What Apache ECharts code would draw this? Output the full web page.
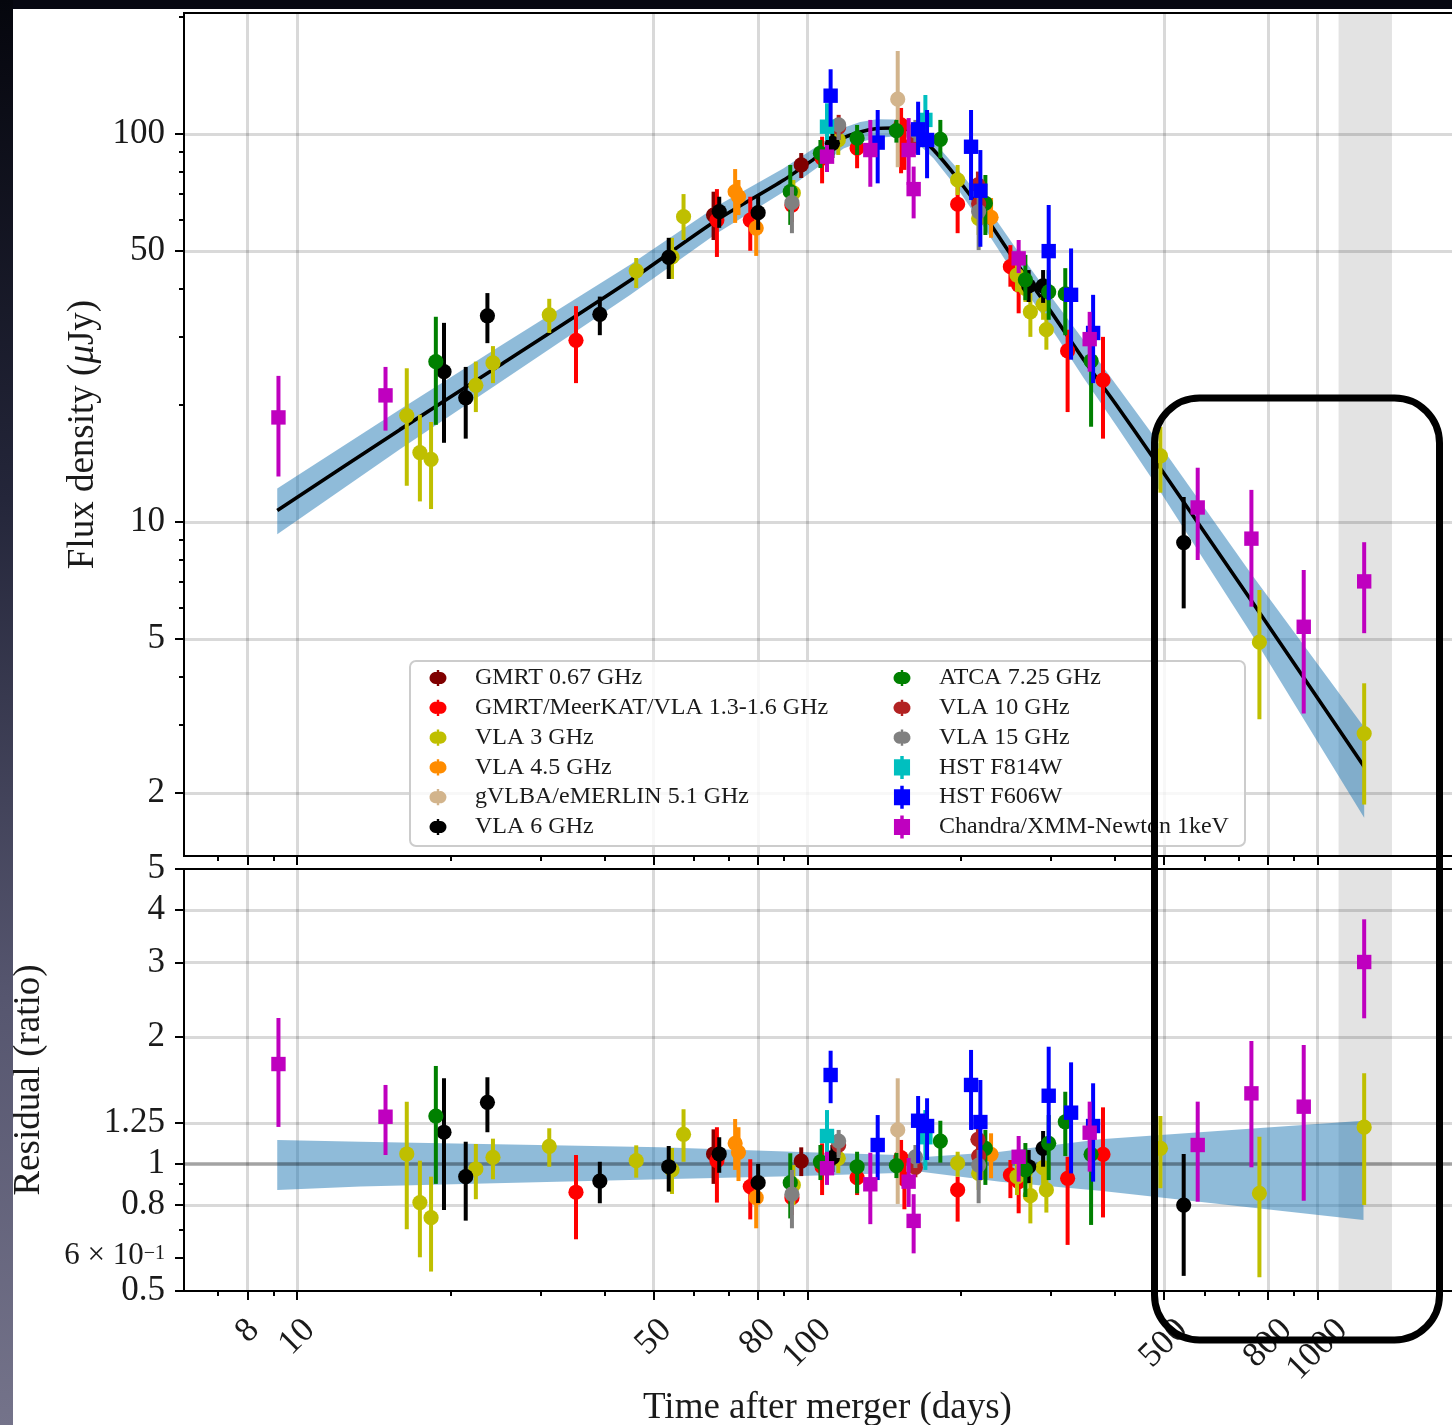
<!DOCTYPE html>
<html>
<head>
<meta charset="utf-8">
<script src="https://cdn.jsdelivr.net/npm/echarts@6/dist/echarts.min.js"></script>
<style>
  html, body { margin: 0; padding: 0; background: #ffffff; }
  #chart { width: 1452px; height: 1425px; }
</style>
</head>
<body>
<div id="chart"></div>
<script>
const FONT = '"Liberation Serif", "DejaVu Serif", serif';
const INK = '#1a1a1a';

// ---- axis ticks -------------------------------------------------------
const xMajorTicks = [8, 10, 50, 80, 100, 500, 800, 1000];
const xMinorTicks = [7, 9, 20, 30, 40, 60, 70, 90, 200, 300, 400, 600, 700, 900];
const fluxMajorTicks = [2, 5, 10, 50, 100];
const fluxMinorTicks = [3, 4, 6, 7, 8, 9, 20, 30, 40, 60, 70, 80, 90, 200];
const ratioMajorTicks = [0.5, 0.6, 0.8, 1, 1.25, 2, 3, 4, 5];
const ratioMinorTicks = [0.7, 0.9];
const ratioGridLines = [0.8, 1.25, 2, 3, 4];

// ---- axis ranges ------------------------------------------------------
const dayRange = [6, 2000];
const fluxRange = [1.378, 205];
const ratioRange = [0.5, 5];
const shadedDays = [1100, 1400];

// ---- best-fit light curve and its 1-sigma band (days, μJy) ------------
const modelDays = [9.14, 15.9, 25.0, 45.0, 66.5, 89.9, 104.5, 117.8, 127.0, 137.0, 147.7, 154.5,
                   164.1, 176.9, 196.6, 221.6, 257.7, 299.6, 348.1, 404.8, 470.6, 738.9, 1234.9];
const modelFlux = [10.7, 17.3, 25.4, 42.0, 60.0, 76.1, 87.3, 97.7, 101.2, 103.3, 103.6, 103.3,
                   99.4, 90.9, 77.0, 62.2, 46.3, 35.0, 26.2, 19.9, 15.0, 6.32, 2.34];
const modelLow  = [9.3, 15.4, 22.9, 38.5, 55.5, 71.0, 81.8, 91.8, 95.4, 97.7, 98.5, 98.6,
                   94.9, 86.4, 72.6, 57.7, 42.5, 31.8, 23.5, 17.6, 13.1, 5.2, 1.73];
const modelHigh = [12.2, 19.5, 28.4, 46.1, 65.2, 81.6, 93.0, 103.8, 107.3, 109.1, 108.9, 108.0,
                   104.2, 95.7, 81.6, 66.9, 50.2, 38.3, 29.4, 22.4, 17.1, 7.4, 2.96];

// residual band (data / model)
const ratioBandDays = [9.14, 13.3, 51.5, 96.9, 150, 167, 239, 375, 1231];
const ratioBandLow  = [0.868, 0.884, 0.920, 0.936, 0.952, 0.959, 0.908, 0.864, 0.737];
const ratioBandHigh = [1.140, 1.129, 1.095, 1.068, 1.050, 1.037, 1.069, 1.144, 1.266];

// ---- measurements: [days, value, lower, upper] -------------------------
const gmrt067Flux = [[65.5, 61.8, 53.3, 71.0], [97.3, 83.2, 77.0, 89.3]];
const gmrt067Ratio = [[65.5, 1.056, 0.897, 1.208], [97.3, 1.016, 0.936, 1.095]];

const lbandFlux = [
  [35.2, 29.4, 22.8, 36.0], [66.5, 60.0, 48.2, 72.1], [77.3, 60.0, 50.0, 68.9],
  [93.3, 65.6, 59.3, 71.7], [106.9, 86.6, 74.6, 98.4], [125.2, 91.9, 81.6, 98.4],
  [152.7, 105.5, 79.2, 116.7], [155.0, 92.7, 80.8, 102.4], [197.1, 65.9, 55.5, 73.1],
  [250.1, 45.5, 40.4, 51.7], [259.6, 40.8, 34.5, 48.3], [323.8, 27.6, 19.2, 31.3],
  [379.9, 23.2, 16.4, 30.0]];
const lbandRatio = [
  [35.2, 0.857, 0.663, 1.050], [66.5, 1.018, 0.810, 1.222], [77.3, 0.884, 0.739, 1.026],
  [93.3, 0.832, 0.757, 0.916], [106.9, 0.985, 0.844, 1.119], [125.2, 0.928, 0.844, 1.005],
  [152.7, 1.035, 0.931, 1.140], [155.0, 0.921, 0.781, 1.040], [197.1, 0.868, 0.730, 0.933],
  [250.1, 0.942, 0.830, 1.022], [259.6, 0.908, 0.764, 1.004], [323.8, 0.925, 0.643, 1.040],
  [379.9, 1.054, 0.747, 1.362]];

const vla3Flux = [
  [16.4, 18.8, 12.4, 24.9], [17.4, 15.1, 11.3, 18.9], [18.3, 14.5, 10.8, 18.1],
  [22.4, 22.5, 19.2, 25.9], [24.2, 25.7, 22.8, 28.4], [31.2, 34.2, 30.7, 37.6],
  [46.2, 44.4, 40.1, 47.9], [54.3, 48.2, 42.3, 54.0], [57.2, 61.2, 53.3, 70.0],
  [93.9, 70.5, 65.6, 76.1], [115.0, 96.5, 88.3, 102.4], [197.1, 76.1, 69.6, 83.2],
  [216.7, 60.6, 54.9, 65.6], [257.7, 43.3, 39.2, 47.3], [267.6, 40.0, 36.9, 44.1],
  [273.7, 34.8, 30.0, 38.9], [289.9, 36.4, 33.2, 40.1], [294.2, 31.3, 27.8, 34.5],
  [492.3, 14.8, 11.9, 17.6], [769.6, 4.90, 3.10, 6.68], [1234.9, 2.85, 1.87, 3.84]];
const vla3Ratio = [
  [16.4, 1.056, 0.700, 1.405], [17.4, 0.810, 0.601, 1.018], [18.3, 0.746, 0.556, 0.933],
  [22.4, 0.973, 0.825, 1.115], [24.2, 1.037, 0.920, 1.148], [31.2, 1.101, 0.985, 1.215],
  [46.2, 1.018, 0.928, 1.107], [54.3, 0.968, 0.849, 1.091], [57.2, 1.176, 1.012, 1.348],
  [93.9, 0.892, 0.799, 0.994], [115.0, 1.031, 0.951, 1.121], [197.1, 1.004, 0.933, 1.069],
  [216.7, 0.950, 0.868, 1.022], [257.7, 0.933, 0.844, 1.022], [267.6, 0.957, 0.877, 1.033],
  [273.7, 0.841, 0.723, 0.933], [289.9, 0.980, 0.897, 1.068], [294.2, 0.868, 0.767, 0.950],
  [492.3, 1.089, 0.876, 1.299], [769.6, 0.852, 0.539, 1.160], [1234.9, 1.222, 0.799, 1.640]];

const vla45Flux = [[72.2, 71.0, 59.0, 81.2], [73.3, 68.9, 61.8, 76.1], [79.4, 57.2, 48.5, 64.0], [229.2, 61.0, 54.0, 68.4]];
const vla45Ratio = [[72.2, 1.119, 0.968, 1.278], [73.3, 1.066, 0.911, 1.222], [79.4, 0.832, 0.704, 0.933], [229.2, 1.054, 0.925, 1.182]];

const vlbiFlux = [[150.4, 122.9, 82.1, 163.6]];
const vlbiRatio = [[150.4, 1.204, 0.804, 1.596]];

const vla6Flux = [
  [19.4, 24.4, 16.0, 32.6], [21.4, 20.9, 16.4, 25.1], [23.6, 34.0, 28.9, 38.9],
  [39.2, 34.3, 30.3, 38.1], [53.5, 48.1, 42.3, 54.0], [67.2, 63.1, 57.3, 68.9],
  [80.1, 62.7, 56.6, 69.6], [112.0, 94.6, 86.7, 102.4], [271.6, 40.6, 36.9, 44.6],
  [289.9, 40.6, 36.7, 44.6], [546.8, 8.85, 5.99, 11.6]];
const vla6Ratio = [
  [19.4, 1.189, 0.778, 1.596], [21.4, 0.933, 0.734, 1.129], [23.6, 1.400, 1.189, 1.605],
  [39.2, 0.911, 0.807, 1.012], [53.5, 0.985, 0.860, 1.103], [67.2, 1.056, 0.953, 1.157],
  [80.1, 0.903, 0.808, 1.000], [112.0, 1.035, 0.957, 1.109], [271.6, 0.985, 0.901, 1.079],
  [289.9, 1.089, 0.985, 1.197], [546.8, 0.799, 0.543, 1.056]];

const atcaFlux = [
  [18.7, 25.9, 17.8, 33.8], [92.6, 71.0, 58.3, 83.2], [106.1, 89.2, 81.7, 96.5],
  [125.2, 97.5, 88.3, 105.5], [149.5, 102.0, 95.0, 108.7], [182.3, 96.9, 86.6, 108.7],
  [223.4, 66.3, 54.9, 78.4], [267.6, 42.1, 37.3, 48.8], [297.3, 39.2, 33.2, 44.6],
  [320.4, 38.7, 30.3, 45.1], [360.0, 26.0, 17.6, 29.8]];
const atcaRatio = [
  [18.7, 1.299, 0.897, 1.707], [92.6, 0.903, 0.743, 1.060], [106.1, 1.012, 0.916, 1.109],
  [125.2, 0.985, 0.852, 1.069], [149.5, 0.991, 0.926, 1.062], [182.3, 1.133, 1.007, 1.266],
  [223.4, 1.089, 0.892, 1.204], [267.6, 0.968, 0.835, 1.121], [297.3, 1.119, 0.916, 1.306],
  [320.4, 1.259, 1.044, 1.483], [360.0, 1.054, 0.717, 1.226]];

const vla10Flux = [[115.2, 104.2, 96.5, 112.0], [162.9, 95.5, 89.0, 102.0], [216.0, 73.9, 68.0, 80.0], [216.7, 66.0, 60.5, 72.0]];
const vla10Ratio = [[115.2, 1.109, 1.050, 1.170], [162.9, 0.982, 0.930, 1.040], [216.0, 1.144, 1.070, 1.220], [216.7, 1.044, 0.970, 1.120]];

const vla15Flux = [[93.3, 66.5, 55.5, 73.1], [115.2, 105.5, 96.5, 109.9], [162.9, 101.8, 95.4, 108.7], [216.7, 63.1, 50.2, 69.6]];
const vla15Ratio = [[93.3, 0.848, 0.704, 0.968], [115.2, 1.133, 1.033, 1.204], [162.9, 1.040, 0.978, 1.109], [216.7, 0.994, 0.807, 1.079]];

const f814wFlux = [[109.3, 104.4, 96.5, 120.0], [170.4, 108.7, 96.5, 126.0]];
const f814wRatio = [[109.3, 1.165, 1.012, 1.342], [170.4, 1.157, 0.968, 1.342]];

const f606wFlux = [
  [111.1, 125.5, 104.4, 146.8], [137.4, 95.0, 74.6, 115.3], [164.9, 102.8, 88.3, 121.1],
  [171.7, 96.5, 76.9, 115.3], [209.4, 92.7, 67.6, 115.3], [218.4, 71.4, 51.2, 90.9],
  [297.3, 49.9, 37.3, 65.6], [328.9, 38.5, 26.2, 50.7], [363.3, 30.7, 22.8, 38.5]];
const f606wRatio = [
  [111.1, 1.625, 1.393, 1.855], [137.4, 1.109, 0.916, 1.306], [164.9, 1.266, 1.004, 1.449],
  [171.7, 1.230, 1.022, 1.431], [209.4, 1.539, 1.204, 1.863], [218.4, 1.257, 0.916, 1.581],
  [297.3, 1.451, 1.119, 1.896], [328.9, 1.323, 0.950, 1.741], [363.3, 1.230, 0.908, 1.553]];

const xrayFlux = [
  [9.19, 18.6, 13.1, 23.8], [14.9, 21.2, 17.2, 25.1], [109.3, 87.4, 79.8, 93.7],
  [132.9, 90.9, 73.1, 108.7], [158.0, 90.9, 73.9, 109.9], [161.6, 72.1, 60.6, 82.4],
  [259.6, 47.8, 43.8, 53.3], [357.7, 29.6, 24.4, 34.8], [582.5, 10.9, 7.98, 13.8],
  [742.3, 9.06, 6.05, 12.1], [940.0, 5.37, 3.21, 7.52], [1234.9, 7.03, 5.17, 8.87]];
const xrayRatio = [
  [9.19, 1.725, 1.224, 2.218], [14.9, 1.294, 1.050, 1.539], [109.3, 0.977, 0.892, 1.069],
  [132.9, 0.895, 0.720, 1.063], [158.0, 0.908, 0.791, 1.033], [161.6, 0.733, 0.614, 0.848],
  [259.6, 1.040, 0.908, 1.165], [357.7, 1.186, 0.959, 1.405], [582.5, 1.109, 0.814, 1.405],
  [742.3, 1.470, 0.982, 1.956], [940.0, 1.367, 0.818, 1.914], [1234.9, 3.010, 2.214, 3.800]];

// ---- instruments (legend order) ----------------------------------------
const instruments = [
  { name: 'GMRT 0.67 GHz',                 color: '#800000', shape: 'circle', flux: gmrt067Flux, ratio: gmrt067Ratio },
  { name: 'GMRT/MeerKAT/VLA 1.3-1.6 GHz',  color: '#ff0000', shape: 'circle', flux: lbandFlux,   ratio: lbandRatio },
  { name: 'VLA 3 GHz',                     color: '#bfbf00', shape: 'circle', flux: vla3Flux,    ratio: vla3Ratio },
  { name: 'VLA 4.5 GHz',                   color: '#ff8c00', shape: 'circle', flux: vla45Flux,   ratio: vla45Ratio },
  { name: 'gVLBA/eMERLIN 5.1 GHz',         color: '#d2b48c', shape: 'circle', flux: vlbiFlux,    ratio: vlbiRatio },
  { name: 'VLA 6 GHz',                     color: '#000000', shape: 'circle', flux: vla6Flux,    ratio: vla6Ratio },
  { name: 'ATCA 7.25 GHz',                 color: '#008000', shape: 'circle', flux: atcaFlux,    ratio: atcaRatio },
  { name: 'VLA 10 GHz',                    color: '#b22222', shape: 'circle', flux: vla10Flux,   ratio: vla10Ratio },
  { name: 'VLA 15 GHz',                    color: '#808080', shape: 'circle', flux: vla15Flux,   ratio: vla15Ratio },
  { name: 'HST F814W',                     color: '#00bfbf', shape: 'square', flux: f814wFlux,   ratio: f814wRatio },
  { name: 'HST F606W',                     color: '#0000ff', shape: 'square', flux: f606wFlux,   ratio: f606wRatio },
  { name: 'Chandra/XMM-Newton 1keV',       color: '#bf00bf', shape: 'square', flux: xrayFlux,    ratio: xrayRatio }
];

// legend glyphs: marker with a vertical error bar through it
const ICON_CIRCLE = 'path://M6,0H9V2.652A7.5,7.5,0,1,1,9,17.348V20H6V17.348A7.5,7.5,0,1,1,6,2.652Z';
const ICON_SQUARE = 'path://M6,0H9V3H14.5V17H9V20H6V17H0.5V3H6Z';

function errorBarItem(color, shape) {
  return function (params, api) {
    const t = api.value(0);
    const c = api.coord([t, api.value(1)]);
    const lo = api.coord([t, api.value(2)]);
    const hi = api.coord([t, api.value(3)]);
    const bar = {
      type: 'line',
      shape: { x1: lo[0], y1: lo[1], x2: hi[0], y2: hi[1] },
      style: { stroke: color, lineWidth: 4 }
    };
    const mark = shape === 'square'
      ? { type: 'rect', shape: { x: c[0] - 7.2, y: c[1] - 7.2, width: 14.4, height: 14.4 }, style: { fill: color } }
      : { type: 'circle', shape: { cx: c[0], cy: c[1], r: 7.6 }, style: { fill: color } };
    return { type: 'group', children: [bar, mark] };
  };
}

function bandItem(days, low, high, color) {
  return function (params, api) {
    const upper = days.map((t, i) => api.coord([t, high[i]]));
    const lower = days.map((t, i) => api.coord([t, low[i]])).reverse();
    return {
      type: 'polygon',
      shape: { points: upper.concat(lower) },
      style: { fill: color }
    };
  };
}

const gridLine = { show: true, lineStyle: { color: 'rgba(0,0,0,0.15)', width: 3 } };
const tickStyle = { color: '#000', width: 2 };

function majorAxis(extra) {
  return Object.assign({
    type: 'log', logBase: 10,
    axisLine: { show: false },
    axisTick: { show: true, inside: false, length: 9, lineStyle: tickStyle },
    axisLabel: { show: false },
    splitLine: { show: false }
  }, extra);
}
function minorAxis(extra, ticks) {
  return Object.assign({
    type: 'log', logBase: 10,
    axisLine: { show: false },
    axisTick: { show: true, inside: false, length: 5, lineStyle: tickStyle, customValues: ticks },
    axisLabel: { show: false },
    splitLine: { show: false }
  }, extra);
}

const labelFont = { fontFamily: FONT, fontSize: 35, color: INK, showMinLabel: true, showMaxLabel: true, hideOverlap: false };
const titleFont = { fontFamily: FONT, fontSize: 37, color: INK };

// rotated day labels sit centred under their tick; longer labels hang lower
const dayLabelRich = {};
[1, 2, 3, 4].forEach(n => {
  const p = 8.8 * (n - 1);
  dayLabelRich['d' + n] = { fontFamily: FONT, fontSize: 35, color: INK, padding: [p, p, 0, 0] };
});
function dayLabel(v) {
  const s = String(Math.round(v));
  return '{d' + s.length + '|' + s + '}';
}

const xAxes = [
  majorAxis({ gridIndex: 0, position: 'bottom', min: dayRange[0], max: dayRange[1],
    axisTick: { show: true, length: 9, lineStyle: tickStyle, customValues: xMajorTicks },
    splitLine: gridLine }),
  minorAxis({ gridIndex: 0, position: 'bottom', min: dayRange[0], max: dayRange[1] }, xMinorTicks),
  majorAxis({ gridIndex: 1, position: 'bottom', min: dayRange[0], max: dayRange[1],
    axisTick: { show: true, length: 9, lineStyle: tickStyle, customValues: xMajorTicks },
    axisLabel: Object.assign({ show: true, rotate: 45, margin: 40, align: 'center', verticalAlign: 'middle',
      customValues: xMajorTicks, formatter: dayLabel, rich: dayLabelRich }, labelFont),
    splitLine: gridLine,
    name: 'Time after merger (days)', nameLocation: 'middle', nameGap: 96,
    nameTextStyle: titleFont }),
  minorAxis({ gridIndex: 1, position: 'bottom', min: dayRange[0], max: dayRange[1] }, xMinorTicks)
];

function ratioLabel(v) {
  if (Math.abs(v - 0.6) < 1e-6) return '{s|6 × 10}{sup|−1}';
  if (Math.abs(v - 1.25) < 1e-6) return '1.25';
  return String(Math.round(v * 100) / 100);
}

const yAxes = [
  majorAxis({ gridIndex: 0, position: 'left', min: fluxRange[0], max: fluxRange[1],
    axisTick: { show: true, length: 9, lineStyle: tickStyle, customValues: fluxMajorTicks },
    axisLabel: Object.assign({ show: true, margin: 19, customValues: fluxMajorTicks,
      formatter: v => String(Math.round(v)) }, labelFont),
    splitLine: gridLine,
    name: 'Flux density ({mu|μ}Jy)', nameLocation: 'middle', nameGap: 82,
    nameTextStyle: Object.assign({
      rich: { mu: { fontFamily: FONT, fontSize: 37, fontStyle: 'italic', color: INK } } }, titleFont) }),
  minorAxis({ gridIndex: 0, position: 'left', min: fluxRange[0], max: fluxRange[1] }, fluxMinorTicks),
  majorAxis({ gridIndex: 1, position: 'left', min: ratioRange[0], max: ratioRange[1],
    axisTick: { show: true, length: 9, lineStyle: tickStyle, customValues: ratioMajorTicks },
    axisLabel: Object.assign({ show: true, margin: 19, customValues: ratioMajorTicks,
      formatter: ratioLabel,
      rich: {
        s: { fontFamily: FONT, fontSize: 31, color: INK, lineHeight: 28, verticalAlign: 'bottom' },
        sup: { fontFamily: FONT, fontSize: 20, color: INK, lineHeight: 28, verticalAlign: 'top' }
      } }, labelFont),
    name: 'Residual (ratio)', nameLocation: 'middle', nameGap: 136,
    nameTextStyle: titleFont }),
  minorAxis({ gridIndex: 1, position: 'left', min: ratioRange[0], max: ratioRange[1] }, ratioMinorTicks),
  majorAxis({ gridIndex: 1, position: 'left', min: ratioRange[0], max: ratioRange[1],
    axisTick: { show: false, customValues: ratioGridLines },
    splitLine: gridLine })
];

const shadeArea = {
  silent: true,
  itemStyle: { color: 'rgba(0,0,0,0.11)' },
  data: [[{ xAxis: shadedDays[0] }, { xAxis: shadedDays[1] }]]
};

const series = [
  {
    type: 'custom', name: 'fit band', xAxisIndex: 0, yAxisIndex: 0, silent: true, z: 2,
    data: [[modelDays[0], modelFlux[0]]], encode: { x: 0, y: 1 },
    renderItem: bandItem(modelDays, modelLow, modelHigh, 'rgba(31,119,180,0.5)'),
    markArea: shadeArea
  },
  {
    type: 'line', name: 'fit', xAxisIndex: 0, yAxisIndex: 0, silent: true, z: 3,
    data: modelDays.map((t, i) => [t, modelFlux[i]]),
    showSymbol: false, symbol: 'none', smooth: 0.25,
    lineStyle: { color: '#000', width: 3.6 }
  },
  {
    type: 'custom', name: 'ratio band', xAxisIndex: 2, yAxisIndex: 2, silent: true, z: 2,
    data: [[ratioBandDays[0], 1]], encode: { x: 0, y: 1 },
    renderItem: bandItem(ratioBandDays, ratioBandLow, ratioBandHigh, 'rgba(31,119,180,0.5)'),
    markArea: shadeArea,
    markLine: {
      silent: true, symbol: 'none', z: 3, label: { show: false },
      lineStyle: { color: 'rgba(0,0,0,0.36)', width: 3.5, type: 'solid' },
      data: [{ yAxis: 1 }]
    }
  }
];

instruments.forEach(inst => {
  series.push({
    type: 'custom', name: inst.name, xAxisIndex: 0, yAxisIndex: 0, z: 4, silent: true,
    itemStyle: { color: inst.color },
    data: inst.flux, encode: { x: 0, y: 1 },
    renderItem: errorBarItem(inst.color, inst.shape)
  });
  series.push({
    type: 'custom', name: inst.name, xAxisIndex: 2, yAxisIndex: 2, z: 4, silent: true,
    itemStyle: { color: inst.color },
    data: inst.ratio, encode: { x: 0, y: 1 },
    renderItem: errorBarItem(inst.color, inst.shape)
  });
});

function legendColumn(list, left) {
  return {
    orient: 'vertical', left: left, top: 666, padding: 0,
    itemWidth: 17, itemHeight: 23, itemGap: 5.8, z: 10,
    selectedMode: false,
    textStyle: { fontFamily: FONT, fontSize: 24, color: INK, padding: [0, 0, 0, 23.5] },
    data: list.map(inst => ({ name: inst.name, icon: inst.shape === 'square' ? ICON_SQUARE : ICON_CIRCLE }))
  };
}

const option = {
  animation: false,
  backgroundColor: '#ffffff',
  grid: [
    { left: 184, top: 13, width: 1287, height: 843, show: true, borderColor: '#000', borderWidth: 2,
      backgroundColor: 'transparent', outerBoundsMode: 'none', containLabel: false },
    { left: 184, top: 869, width: 1287, height: 422, show: true, borderColor: '#000', borderWidth: 2,
      backgroundColor: 'transparent', outerBoundsMode: 'none', containLabel: false }
  ],
  xAxis: xAxes,
  yAxis: yAxes,
  legend: [legendColumn(instruments.slice(0, 6), 429.5), legendColumn(instruments.slice(6), 893.5)],
  series: series,
  graphic: [
    { type: 'rect', z: 9, silent: true,
      shape: { x: 410, y: 661, width: 835, height: 185, r: 6 },
      style: { fill: 'rgba(255,255,255,0.8)', stroke: '#cccccc', lineWidth: 2 } },
    { type: 'rect', z: 50, silent: true,
      shape: { x: 1154.5, y: 398, width: 285, height: 942, r: 45 },
      style: { fill: 'none', stroke: '#000', lineWidth: 7 } },
    { type: 'rect', z: 60, silent: true,
      shape: { x: 0, y: 0, width: 1452, height: 9 },
      style: { fill: '#070812' } },
    { type: 'rect', z: 60, silent: true,
      shape: { x: 0, y: 0, width: 13, height: 1425 },
      style: { fill: new echarts.graphic.LinearGradient(0, 0, 0, 1, [
        { offset: 0, color: '#05060d' },
        { offset: 0.35, color: '#24263a' },
        { offset: 0.7, color: '#56566f' },
        { offset: 1, color: '#74738a' }
      ]) } }
  ]
};

const chart = echarts.init(document.getElementById('chart'), null, { renderer: 'canvas' });
chart.setOption(option);
</script>
</body>
</html>
